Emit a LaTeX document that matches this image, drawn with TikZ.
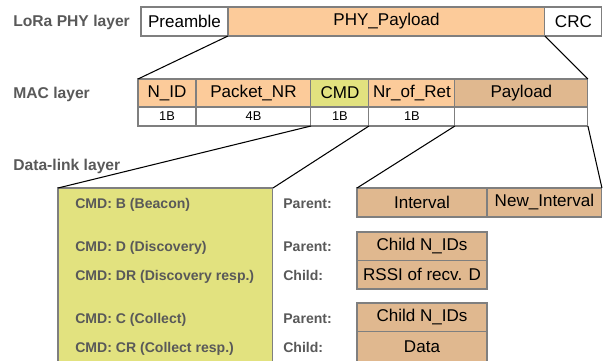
\documentclass[tikz,border=0pt]{standalone}
\usepackage{fontspec}
\setmainfont{Liberation Sans}
\usepackage{xcolor}
\usetikzlibrary{positioning}
\definecolor{orng}{HTML}{FCCB9A}
\definecolor{tan}{HTML}{E0B88F}
\definecolor{ylw}{HTML}{E2E27F}
\definecolor{edge}{HTML}{7F7F7F}
\definecolor{lbl}{HTML}{595959}

\begin{document}
\begin{tikzpicture}[x=0.02cm, y=-0.02cm,
  cell/.style={draw=edge, line width=0.6pt, outer sep=0pt, inner sep=0pt,
               minimum height=0.58cm, font=\fontsize{9.7}{11}\selectfont},
  ocell/.style={cell, fill=orng},
  tcell/.style={cell, fill=tan},
  szcell/.style={cell, minimum height=0.38cm, font=\fontsize{7.3}{8}\selectfont},
  layer/.style={anchor=base west, text=lbl, font=\fontsize{8.9}{10}\bfseries\selectfont, inner sep=0pt},
  cmdtxt/.style={anchor=base west, text=lbl, font=\fontsize{8}{9}\bfseries\selectfont, inner sep=0pt},
  link/.style={black, line width=0.6pt}]
\useasboundingbox (0,0) rectangle (610,360);
\clip (0,0) rectangle (610,360);
% PHY layer
\node[layer] (lphy) at (13,26.5) {LoRa PHY layer};
\node[cell, anchor=north west, minimum width=1.74cm] (pre) at (141,7) {Preamble};
\node[ocell, right=0pt of pre, minimum width=6.34cm] (phy) {PHY\_Payload};
\node[cell, right=0pt of phy, minimum width=1.14cm] (crc) {CRC};
% MAC layer
\node[layer] (lmac) at (13,98.5) {MAC layer};
\node[ocell, anchor=north west, minimum width=1.16cm, minimum height=0.56cm] (nid) at (138,79) {N\_ID};
\node[ocell, right=0pt of nid, minimum width=2.30cm, minimum height=0.56cm] (pnr) {Packet\_NR};
\node[cell, fill=ylw, right=0pt of pnr, minimum width=1.16cm, minimum height=0.56cm] (cmd) {CMD};
\node[ocell, right=0pt of cmd, minimum width=1.72cm, minimum height=0.56cm] (ret) {Nr\_of\_Ret};
\node[tcell, right=0pt of ret, minimum width=2.66cm, minimum height=0.56cm] (pl) {Payload};
\node[szcell, below=0pt of nid, minimum width=1.16cm] (nidB) {1B};
\node[szcell, below=0pt of pnr, minimum width=2.30cm] (pnrB) {4B};
\node[szcell, below=0pt of cmd, minimum width=1.16cm] (cmdB) {1B};
\node[szcell, below=0pt of ret, minimum width=1.72cm] (retB) {1B};
\node[szcell, below=0pt of pl, minimum width=2.66cm] (plB) {};
% Data-link layer
\node[layer] (ldl) at (13,170.5) {Data-link layer};
\node[draw=edge, line width=0.6pt, fill=ylw, anchor=north west, outer sep=0pt,
      minimum width=4.3cm, minimum height=3.8cm] (cmdbox) at (58,188) {};
\node[cmdtxt] (cb) at (75,208.5) {CMD: B (Beacon)};
\node[cmdtxt] (cd) at (75,251.5) {CMD: D (Discovery)};
\node[cmdtxt] (cdr) at (75,280.5) {CMD: DR (Discovery resp.)};
\node[cmdtxt] (cc) at (75,323.5) {CMD: C (Collect)};
\node[cmdtxt] (ccr) at (75,352.5) {CMD: CR (Collect resp.)};
\node[cmdtxt] (pb) at (283,208.5) {Parent:};
\node[cmdtxt] (pd) at (283,251.5) {Parent:};
\node[cmdtxt] (cdd) at (283,280.5) {Child:};
\node[cmdtxt] (pc) at (283,323.5) {Parent:};
\node[cmdtxt] (ccc) at (283,352.5) {Child:};
\node[tcell, anchor=north west, minimum width=2.6cm] (intv) at (357,188) {Interval};
\node[tcell, right=0pt of intv, minimum width=2.3cm] (nintv) {New\_Interval};
\node[tcell, anchor=north west, minimum width=2.6cm, minimum height=0.57cm] (dids) at (357,232) {Child N\_IDs};
\node[tcell, below=0pt of dids, minimum width=2.6cm, minimum height=0.57cm] (rssi) {RSSI of recv. D};
\node[tcell, anchor=north west, minimum width=2.6cm, minimum height=0.57cm] (cids) at (357,303) {Child N\_IDs};
\node[tcell, below=0pt of cids, minimum width=2.6cm, minimum height=0.62cm] (data) {Data};
% zoom lines
\draw[link] (phy.south west) -- (nid.north west);
\draw[link] (phy.south east) -- (pl.north east);
\draw[link] (pnrB.south east) -- (cmdbox.north west);
\draw[link] (cmdB.south east) -- (cmdbox.north east);
\draw[link] (retB.south east) -- (intv.north west);
\draw[link] (plB.south east) -- (nintv.north east);
\end{tikzpicture}
\end{document}
